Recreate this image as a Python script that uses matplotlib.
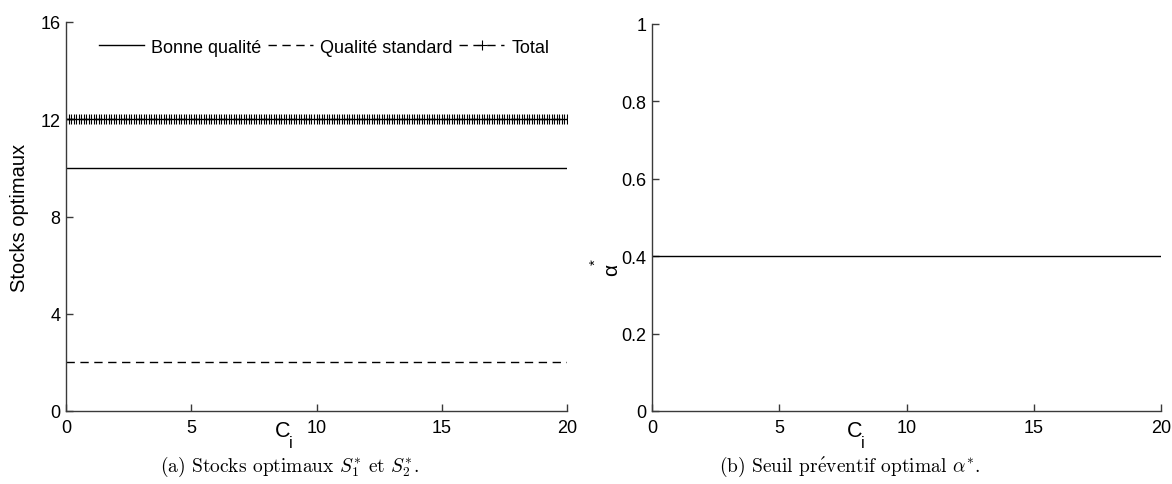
import matplotlib
matplotlib.use("Agg")
import matplotlib.pyplot as plt
import numpy as np

# sweep of the cost parameter C_i
ci = np.linspace(0, 20, 201)

# optimal values (constant over C_i)
stock_bonne = 10.0
stock_standard = 2.0
stock_total = 12.0
alpha_opt = 0.4

left_yticks = [0, 4, 8, 12, 16]
right_yticks = [0, 0.2, 0.4, 0.6, 0.8, 1]
right_yticklabels = ["0", "0.2", "0.4", "0.6", "0.8", "1"]
xticks = [0, 5, 10, 15, 20]

plt.rcParams["font.family"] = ["Liberation Sans", "DejaVu Sans"]
plt.rcParams["font.size"] = 13

SPINE = "#3a3a3a"


def _style(ax):
    ax.spines["top"].set_visible(False)
    ax.spines["right"].set_visible(False)
    for side in ("left", "bottom"):
        ax.spines[side].set_color(SPINE)
        ax.spines[side].set_linewidth(1.0)
    ax.tick_params(direction="in", length=5, width=1.0, colors=SPINE, labelcolor="black", labelsize=13)
    ax.tick_params(axis="x", pad=6)
    ax.tick_params(axis="y", pad=4)
    ax.set_xlim(0, 20)
    ax.set_xticks(xticks)
    ax.set_xticklabels([str(t) for t in xticks])


def _xlabel_ci(ax, x):
    tr = ax.get_xaxis_transform()
    ax.text(x, -0.022, "C", transform=tr, ha="center", va="top", fontsize=15.5)
    ax.text(x + 0.33, -0.062, "i", transform=tr, ha="center", va="top", fontsize=11.5)


fig = plt.figure(figsize=(11.72, 4.85), dpi=100)

# (a) stocks
ax1 = fig.add_axes([66 / 1172, 73 / 485, 501 / 1172, 389 / 485])
ax1.plot(ci, np.full_like(ci, stock_bonne), color="black", linewidth=1.0, label="Bonne qualité")
ax1.plot(ci, np.full_like(ci, stock_standard), color="black", linewidth=1.0, linestyle=(0, (6, 4)),
         label="Qualité standard")
ax1.plot(ci, np.full_like(ci, stock_total), color="black", linewidth=1.0, linestyle=(0, (6, 4)),
         marker="+", markersize=7.5, markeredgewidth=0.8, label="Total")
ax1.set_ylim(0, 16)
ax1.set_yticks(left_yticks)
ax1.set_yticklabels([str(t) for t in left_yticks])
_style(ax1)
ax1.set_ylabel("Stocks optimaux", fontsize=14.5, labelpad=8)
_xlabel_ci(ax1, 8.65)
ax1.legend(loc="center left", bbox_to_anchor=(0.066, 0.935), ncol=3, frameon=False, fontsize=13,
           handlelength=2.5, handletextpad=0.4, columnspacing=0.35, borderaxespad=0.0, borderpad=0.0)

# (b) seuil préventif
ax2 = fig.add_axes([652 / 1172, 73 / 485, 509 / 1172, 387 / 485])
ax2.plot(ci, np.full_like(ci, alpha_opt), color="black", linewidth=1.0)
ax2.set_ylim(0, 1)
ax2.set_yticks(right_yticks)
ax2.set_yticklabels(right_yticklabels)
_style(ax2)
ax2.text(-0.079, 0.367, "α", transform=ax2.transAxes, rotation=90, ha="center", va="center", fontsize=15)
ax2.text(-0.11, 0.388, "*", transform=ax2.transAxes, rotation=90, ha="center", va="center", fontsize=11)
_xlabel_ci(ax2, 7.95)

# captions
fig.text(0.247, 0.037, r"(a) Stocks optimaux $S_1^{*}$ et $S_2^{*}$.", ha="center", va="center",
         fontsize=14, family=["cmr10", "DejaVu Serif"], math_fontfamily="cm")
fig.text(0.725, 0.037, r"(b) Seuil pr$\acute{\mathrm{e}}$ventif optimal $\alpha^{*}$.", ha="center",
         va="center", fontsize=14, family=["cmr10", "DejaVu Serif"], math_fontfamily="cm")

fig.savefig("out.png", dpi=100)
